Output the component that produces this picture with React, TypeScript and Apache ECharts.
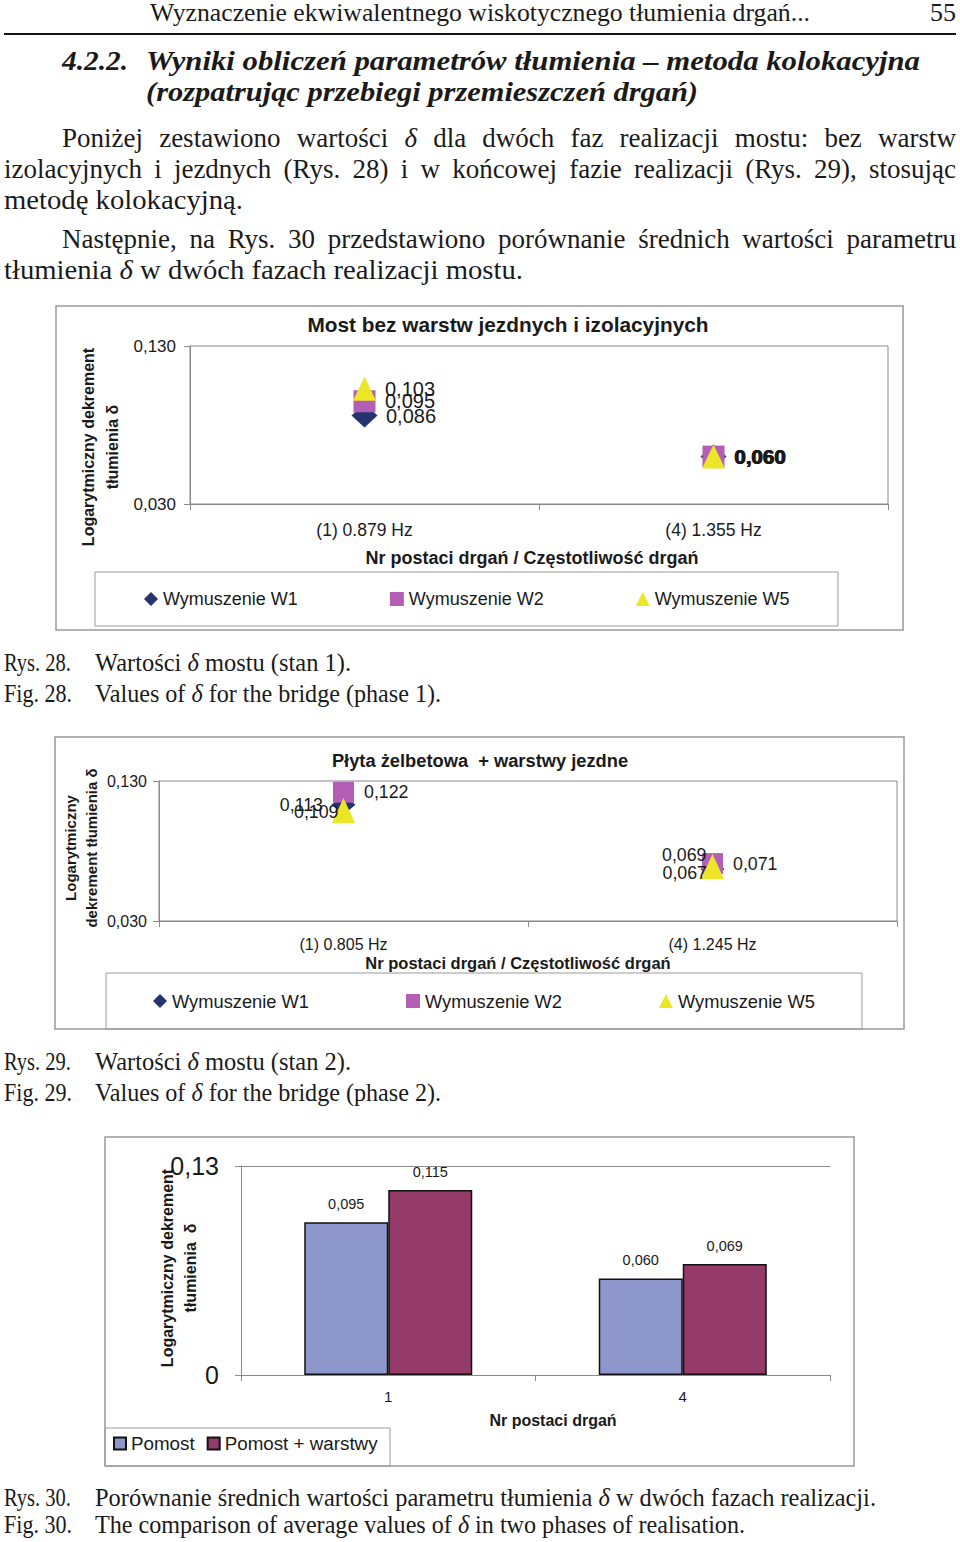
import React, { useEffect, useRef } from 'react';
import * as echarts from 'echarts';

// ---------- data ----------
const CAT_1 = ['(1) 0.879 Hz', '(4) 1.355 Hz'];
const W1_1 = [0.086, 0.06];
const W2_1 = [0.095, 0.06];
const W5_1 = [0.103, 0.06];

const CAT_2 = ['(1) 0.805 Hz', '(4) 1.245 Hz'];
const W1_2 = [0.113, 0.067];
const W2_2 = [0.122, 0.071];
const W5_2 = [0.109, 0.069];

const Y_TICKS_12 = [0.03, 0.13];

const CAT_3 = ['1', '4'];
const POMOST = [0.095, 0.06];
const POMOST_W = [0.115, 0.069];
const Y_TICKS_3 = [0, 0.13];

const SERIES_NAMES = ['Wymuszenie W1', 'Wymuszenie W2', 'Wymuszenie W5'];
const BAR_NAMES = ['Pomost', 'Pomost + warstwy'];

// label nudges (style only)
const NUDGE_W1_2 = [[0, 0], [15, 4]];
const NUDGE_W5_2 = [[15, 2], [14, -11]];

// ---------- page text ----------
type Line = { t: string; x: number; cy: number; w: number; k: string; j?: boolean };
const LINES: Line[] = [
  { t: 'Wyznaczenie ekwiwalentnego wiskotycznego tłumienia drgań...', x: 150, cy: 13, w: 660, k: 'hdr' },
  { t: '55', x: 930, cy: 13, w: 26, k: 'hdr' },
  { t: '4.2.2.', x: 62, cy: 61, w: 66, k: 'head' },
  { t: 'Wyniki obliczeń parametrów tłumienia – metoda kolokacyjna', x: 146, cy: 61, w: 774, k: 'head' },
  { t: '(rozpatrując przebiegi przemieszczeń drgań)', x: 146, cy: 92, w: 552, k: 'head' },
  { t: 'Poniżej zestawiono wartości δ dla dwóch faz realizacji mostu: bez warstw', x: 62, cy: 138, w: 894, k: 'body', j: true },
  { t: 'izolacyjnych i jezdnych (Rys. 28) i w końcowej fazie realizacji (Rys. 29), stosując', x: 4, cy: 169, w: 952, k: 'body', j: true },
  { t: 'metodę kolokacyjną.', x: 4, cy: 200, w: 239, k: 'body' },
  { t: 'Następnie, na Rys. 30 przedstawiono porównanie średnich wartości parametru', x: 62, cy: 239, w: 894, k: 'body', j: true },
  { t: 'tłumienia δ w dwóch fazach realizacji mostu.', x: 4, cy: 270, w: 519, k: 'body' },
  { t: 'Rys. 28.', x: 4, cy: 663, w: 67, k: 'cap' },
  { t: 'Wartości δ mostu (stan 1).', x: 95, cy: 663, w: 256, k: 'cap' },
  { t: 'Fig. 28.', x: 4, cy: 694, w: 68, k: 'cap' },
  { t: 'Values of δ for the bridge (phase 1).', x: 95, cy: 694, w: 346, k: 'cap' },
  { t: 'Rys. 29.', x: 4, cy: 1062, w: 67, k: 'cap' },
  { t: 'Wartości δ mostu (stan 2).', x: 95, cy: 1062, w: 256, k: 'cap' },
  { t: 'Fig. 29.', x: 4, cy: 1093, w: 68, k: 'cap' },
  { t: 'Values of δ for the bridge (phase 2).', x: 95, cy: 1093, w: 346, k: 'cap' },
  { t: 'Rys. 30.', x: 4, cy: 1498, w: 67, k: 'cap' },
  { t: 'Porównanie średnich wartości parametru tłumienia δ w dwóch fazach realizacji.', x: 95, cy: 1498, w: 781, k: 'cap' },
  { t: 'Fig. 30.', x: 4, cy: 1525, w: 68, k: 'cap' },
  { t: 'The comparison of average values of δ in two phases of realisation.', x: 95, cy: 1525, w: 650, k: 'cap' },
];

const KIND: Record<string, { fs: number; fw: string; fst: string }> = {
  hdr: { fs: 25, fw: 'normal', fst: 'normal' },
  head: { fs: 28, fw: 'bold', fst: 'italic' },
  body: { fs: 27, fw: 'normal', fst: 'normal' },
  cap: { fs: 25, fw: 'normal', fst: 'normal' },
};

const FONT = "'Liberation Sans', Arial, sans-serif";
const SERIF = "'Liberation Serif', 'Times New Roman', serif";
const TXT = '#1a1a1a';
const AX = '#8a8a8a';
const BOX = '#9a9a9a';
const C_W1 = '#25336F';
const C_W2 = '#B35FB5';
const C_W5 = '#EDE627';
const C_P = '#8D97CB';
const C_PW = '#953B69';

const fmt3 = (v: number) => v.toFixed(3).replace('.', ',');

function buildOption(): any {
  const yScatter = (gridIndex: number, margin: number, fontSize: number) => ({
    type: 'value',
    gridIndex,
    min: Y_TICKS_12[0],
    max: Y_TICKS_12[Y_TICKS_12.length - 1],
    axisLine: { show: true, lineStyle: { color: AX } },
    axisTick: { show: true, length: 6, customValues: Y_TICKS_12, lineStyle: { color: AX } },
    axisLabel: { customValues: Y_TICKS_12, formatter: (v: number) => fmt3(v), margin, fontSize, color: TXT, fontFamily: FONT },
    splitLine: { show: false },
  });
  const xCat = (gridIndex: number, data: string[], fontSize: number, margin: number, name: string, nameSize: number, nameGap: number, pad: number[]) => ({
    type: 'category',
    gridIndex,
    data,
    boundaryGap: true,
    axisLine: { show: true, lineStyle: { color: AX } },
    axisTick: { show: true, length: 6, interval: 0, lineStyle: { color: AX } },
    axisLabel: { fontSize, margin, color: TXT, fontFamily: FONT, interval: 0 },
    splitLine: { show: false },
    name,
    nameLocation: 'middle',
    nameGap,
    nameTextStyle: { fontSize: nameSize, fontWeight: 'bold', color: TXT, fontFamily: FONT, padding: pad },
  });

  const sc = (name: string, vals: number[], idx: number, symbol: string, size: any, color: string, pos: string, dist: number, fs: number, itemFn?: (i: number) => any) => ({
    type: 'scatter',
    name,
    xAxisIndex: idx,
    yAxisIndex: idx,
    symbol,
    symbolSize: size,
    itemStyle: { color, opacity: 1 },
    label: { show: true, position: pos, distance: dist, fontSize: fs, color: TXT, fontFamily: FONT, formatter: (p: any) => fmt3(p.value) },
    data: vals.map((v, i) => ({ value: v, ...(itemFn ? itemFn(i) : {}) })),
    silent: true,
  });

  const boldLast = (i: number) => (i === 1 ? { label: { fontWeight: 'bold', fontSize: 20.5 } } : {});

  const gtext = (text: string, x: number, y: number, fs: number, bold: boolean, rot = 0, lh?: number) => ({
    type: 'text',
    x,
    y,
    rotation: rot,
    silent: true,
    style: {
      text,
      fontSize: fs,
      fontWeight: bold ? 'bold' : 'normal',
      fontFamily: FONT,
      fill: TXT,
      align: 'center',
      verticalAlign: 'middle',
      textAlign: 'center',
      textVerticalAlign: 'middle',
      lineHeight: lh,
    },
  });
  const box = (x: number, y: number, w: number, h: number, c: string, lw: number) => ({
    type: 'rect',
    silent: true,
    shape: { x, y, width: w, height: h },
    style: { fill: 'none', stroke: c, lineWidth: lw },
  });

  const legendText = { fontSize: 18, color: TXT, fontFamily: FONT };

  return {
    animation: false,
    textStyle: { fontFamily: FONT },
    grid: [
      { left: 190, top: 346, width: 698, height: 158, show: true, borderColor: AX, borderWidth: 1, backgroundColor: 'transparent' },
      { left: 159, top: 781, width: 738, height: 140, show: true, borderColor: AX, borderWidth: 1, backgroundColor: 'transparent' },
      { left: 241, top: 1166, width: 589, height: 209 },
    ],
    xAxis: [
      xCat(0, CAT_1, 17.5, 17, 'Nr postaci drgań / Częstotliwość drgań', 18, 45, [0, 14, 0, 0]),
      xCat(1, CAT_2, 16, 15, 'Nr postaci drgań / Częstotliwość drgań', 16.5, 33, [0, 20, 0, 0]),
      xCat(2, CAT_3, 15, 14, 'Nr postaci drgań', 16, 37, [0, 0, 0, 35]),
    ],
    yAxis: [
      yScatter(0, 14, 17),
      yScatter(1, 12, 16),
      {
        type: 'value',
        gridIndex: 2,
        min: Y_TICKS_3[0],
        max: Y_TICKS_3[1],
        interval: Y_TICKS_3[1],
        axisLine: { show: true, lineStyle: { color: AX } },
        axisTick: { show: true, length: 6, lineStyle: { color: AX } },
        axisLabel: { formatter: (v: number) => String(v).replace('.', ','), margin: 22, fontSize: 25, color: TXT, fontFamily: FONT },
        splitLine: { show: true, lineStyle: { color: AX, width: 1 } },
      },
    ],
    legend: [
      { data: SERIES_NAMES, left: 144, top: 590, itemGap: 92, itemWidth: 14, itemHeight: 14, padding: 0, selectedMode: false, textStyle: legendText },
      { data: SERIES_NAMES, left: 153, top: 992, itemGap: 97, itemWidth: 14, itemHeight: 14, padding: 0, selectedMode: false, textStyle: { ...legendText, fontSize: 18.3 } },
      { data: BAR_NAMES, left: 113, top: 1434, itemGap: 12, itemWidth: 12, itemHeight: 12, icon: 'rect', padding: 0, selectedMode: false, textStyle: { ...legendText, fontSize: 18.8 } },
    ],
    series: [
      sc(SERIES_NAMES[0], W1_1, 0, 'diamond', [26, 24], C_W1, 'right', 8.5, 20, boldLast),
      sc(SERIES_NAMES[1], W2_1, 0, 'rect', 22, C_W2, 'right', 9.5, 20, boldLast),
      sc(SERIES_NAMES[2], W5_1, 0, 'triangle', [23, 24], C_W5, 'right', 9, 20, boldLast),
      sc(SERIES_NAMES[0], W1_2, 1, 'diamond', [24, 20], C_W1, 'left', 8.5, 17.8, (i) => ({ label: { offset: NUDGE_W1_2[i] } })),
      sc(SERIES_NAMES[1], W2_2, 1, 'rect', 21, C_W2, 'right', 10, 17.8),
      sc(SERIES_NAMES[2], W5_2, 1, 'triangle', [23, 25], C_W5, 'left', 8.5, 17.8, (i) => ({ label: { offset: NUDGE_W5_2[i] } })),
      {
        type: 'bar',
        name: BAR_NAMES[0],
        xAxisIndex: 2,
        yAxisIndex: 2,
        data: POMOST,
        barWidth: 84,
        barGap: '0%',
        itemStyle: { color: C_P, borderColor: '#111', borderWidth: 1.5 },
        label: { show: true, position: 'top', distance: 11, fontSize: 14.5, color: TXT, fontFamily: FONT, formatter: (p: any) => fmt3(p.value) },
        silent: true,
      },
      {
        type: 'bar',
        name: BAR_NAMES[1],
        xAxisIndex: 2,
        yAxisIndex: 2,
        data: POMOST_W,
        barWidth: 84,
        barGap: '0%',
        itemStyle: { color: C_PW, borderColor: '#111', borderWidth: 1.5 },
        label: { show: true, position: 'top', distance: 11, fontSize: 14.5, color: TXT, fontFamily: FONT, formatter: (p: any) => fmt3(p.value) },
        silent: true,
      },
    ],
    graphic: [
      box(56, 306, 847, 324, BOX, 1.5),
      box(95, 572, 743, 54, BOX, 1),
      box(55, 737, 849, 292, BOX, 1.5),
      box(106, 973, 756, 56, BOX, 1),
      box(105, 1137, 749, 329, BOX, 1.5),
      box(105, 1428, 285, 38, BOX, 1),
      gtext('Most bez warstw jezdnych i izolacyjnych', 508, 324, 20.8, true),
      gtext('Płyta żelbetowa  + warstwy jezdne', 480, 760, 18.3, true),
      gtext('Logarytmiczny dekrement\ntłumienia δ', 100, 447, 16, true, Math.PI / 2, 24),
      gtext('Logarytmiczny\ndekrement tłumienia δ', 80.5, 848, 15, true, Math.PI / 2, 21),
      gtext('Logarytmiczny dekrement\ntłumienia  δ', 178.5, 1268, 16, true, Math.PI / 2, 23),
    ],
  };
}

function renderText(t: string, italicDelta: boolean) {
  if (!italicDelta) return t;
  const parts = t.split('δ');
  const out: any[] = [];
  parts.forEach((p, i) => {
    out.push(p);
    if (i < parts.length - 1) out.push(<i key={i}>δ</i>);
  });
  return out;
}

export default function App() {
  const chartRef = useRef<HTMLDivElement | null>(null);
  const lineRefs = useRef<(HTMLSpanElement | null)[]>([]);

  useEffect(() => {
    if (!chartRef.current) return;
    const chart = echarts.init(chartRef.current, undefined, { renderer: 'svg' });
    chart.setOption(buildOption());
    return () => chart.dispose();
  }, []);

  useEffect(() => {
    const apply = () => {
      lineRefs.current.forEach((el, i) => {
        if (!el) return;
        const L = LINES[i];
        el.style.transform = '';
        el.style.wordSpacing = '';
        const nat = el.getBoundingClientRect().width;
        if (!nat) return;
        if (L.j) {
          const n = (L.t.match(/ /g) || []).length;
          if (nat < L.w && n > 0) {
            el.style.wordSpacing = (L.w - nat) / n + 'px';
            return;
          }
        }
        el.style.transform = `scaleX(${L.w / nat})`;
      });
    };
    apply();
    const f: any = (document as any).fonts;
    if (f && f.ready) f.ready.then(apply);
  }, []);

  return (
    <div style={{ position: 'absolute', left: 0, top: 0, width: 960, height: 1542, background: '#fff', overflow: 'hidden' }}>
      <div ref={chartRef} style={{ position: 'absolute', left: 0, top: 0, width: 960, height: 1542 }} />
      <div style={{ position: 'absolute', left: 4, top: 33, width: 952, height: 2, background: '#111' }} />
      {LINES.map((L, i) => {
        const K = KIND[L.k];
        const lh = Math.round(K.fs * 1.2);
        return (
          <div
            key={i}
            style={{ position: 'absolute', left: L.x, top: L.cy - lh / 2, height: lh, lineHeight: lh + 'px', whiteSpace: 'nowrap', pointerEvents: 'none' }}
          >
            <span
              ref={(el) => {
                lineRefs.current[i] = el;
              }}
              style={{
                display: 'inline-block',
                fontFamily: SERIF,
                fontSize: K.fs,
                fontWeight: K.fw as any,
                fontStyle: K.fst as any,
                color: '#1a1a1a',
                transformOrigin: '0 50%',
              }}
            >
              {renderText(L.t, L.k !== 'head')}
            </span>
          </div>
        );
      })}
    </div>
  );
}
